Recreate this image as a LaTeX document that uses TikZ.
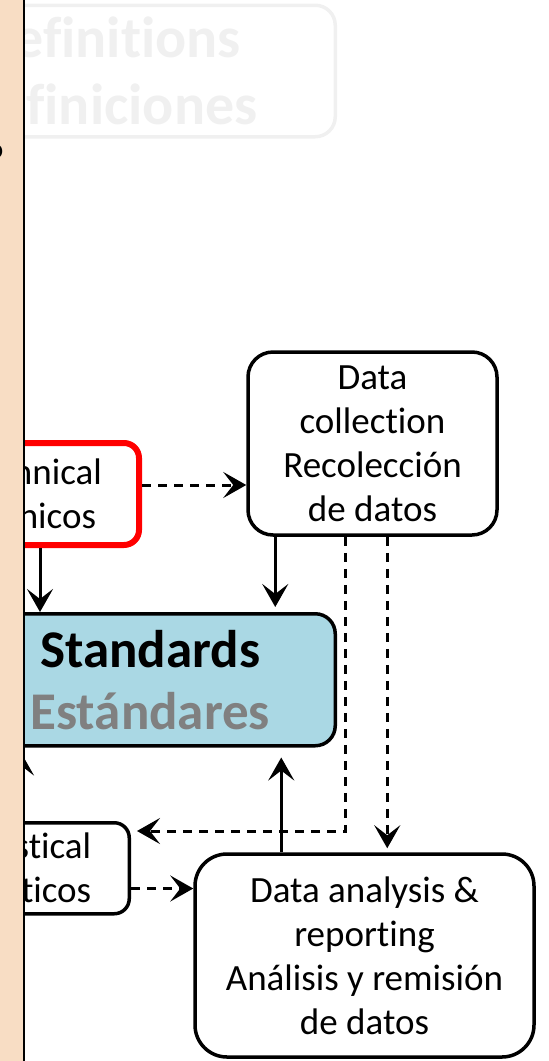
\documentclass[tikz,border=0pt]{standalone}
\usepackage{fontspec}
\setmainfont{Carlito}[Ligatures={NoCommon}]
\usetikzlibrary{arrows.meta}
\definecolor{striptan}{RGB}{248,221,196}
\definecolor{stdblue}{RGB}{170,216,228}
\definecolor{fadegray}{RGB}{240,240,240}
\tikzset{box/.style = {draw, line width=3.5pt, align=center, inner sep=0pt,
                       font=\fontsize{37}{44}\selectfont}}
\tikzset{arr/.style = {-{Stealth[length=23pt, width=26pt, inset=10pt]}, line width=3pt}}
\tikzset{darr/.style = {arr, dash pattern=on 9pt off 7pt}}

\begin{document}
\begin{tikzpicture}[x=1pt, y=-1pt]
      \useasboundingbox (0,0) rectangle (549,1061);

      \node [box, draw=fadegray, text=fadegray, rounded corners=20pt,
             font=\bfseries\fontsize{58}{67}\selectfont,
             minimum width=452, minimum height=131.5, anchor=north east] (defs) at (337,3.5) {Definitions\\Definiciones};
      \node [box, draw=red, line width=6pt, rounded corners=15pt,
             minimum width=212, minimum height=102, anchor=north east] (tech) at (142,440) {Technical\\Técnicos};
      \node [box, rounded corners=25pt, minimum width=249, minimum height=183] (coll) at (372.5,443.5) {Data\\collection\\Recolección\\de datos};
      \node [box, fill=stdblue, rounded corners=20pt, font=\bfseries\fontsize{53}{62}\selectfont,
             minimum width=370, minimum height=132, anchor=north east] (std) at (337,612) {Standards\\\textcolor{gray}{Estándares}};
      \node [box, align=right, rounded corners=15pt, minimum width=250, minimum height=91, anchor=north east] (stat) at (131,821) {Statistical\\Estadísticos};
      \node [box, rounded corners=32pt, minimum width=339, minimum height=203] (anal) at (364.5,955.5) {Data analysis \&\\reporting\\Análisis y remisión\\de datos};

      \draw [arr] ([xshift=-102pt]tech.south east) -- ([xshift=-102pt]tech.south east |- std.north);
      \draw [darr] ([yshift=9pt]tech.east) -- ([yshift=9pt]tech.east -| coll.west);
      \draw [arr, shorten >=5pt] ([xshift=29pt]coll.south west) -- ([xshift=29pt]coll.south west |- std.north);
      \draw [arr, shorten >=10pt] ([xshift=88pt]anal.north west) -- ([xshift=88pt]anal.north west |- std.south);
      \draw [darr, shorten >=6pt] ([xshift=99pt]coll.south west) |- ([yshift=-10pt]stat.north east);
      \draw [darr, shorten >=4pt] ([xshift=141pt]coll.south west) -- ([xshift=141pt]coll.south west |- anal.north);
      \draw [darr] ([yshift=27pt]stat.south east) -- ([yshift=27pt]stat.south east -| anal.west);
      \draw [arr, shorten >=5pt] ([xshift=-110pt]stat.north east) -- ([xshift=-110pt]stat.north east |- std.south);

      % side strip
      \fill [striptan] (0,0) rectangle (24,1061);
      \draw [line width=2.5pt] (24,0) -- (24,1061);
      \node [inner sep=0pt, anchor=east, font=\bfseries\fontsize{28}{28}\selectfont] (frag) at (3.5,152) {o};
\end{tikzpicture}
\end{document}
